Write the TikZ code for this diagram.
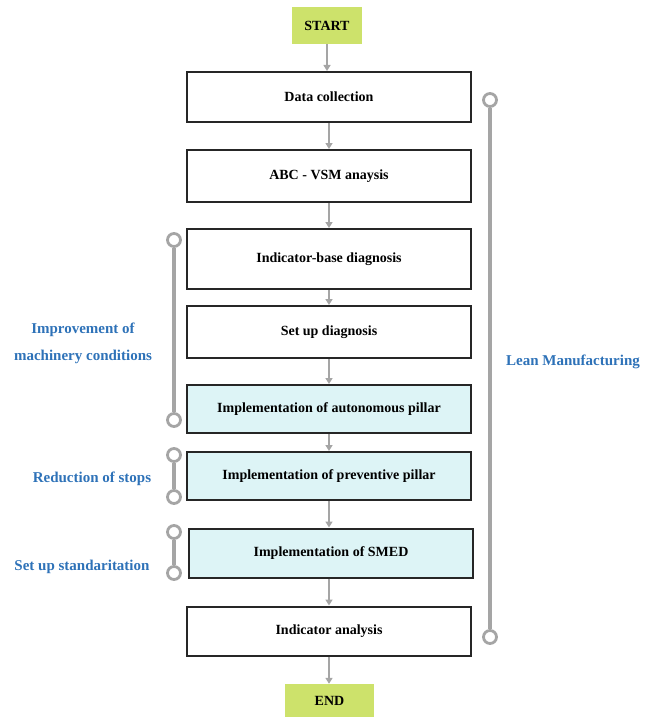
\documentclass[tikz,border=0pt]{standalone}
\usepackage{fontspec}
\setmainfont{Liberation Serif}
\usetikzlibrary{arrows.meta}
\usetikzlibrary{positioning}
\definecolor{startgreen}{HTML}{CDE26B}
\definecolor{pillarcyan}{HTML}{DDF4F6}
\definecolor{bargray}{HTML}{A5A5A5}
\definecolor{labelblue}{HTML}{2E72B8}

\begin{document}
\begin{tikzpicture}[x=1pt, y=-1pt, font=\fontsize{14}{16}\selectfont\bfseries,
  stepbox/.style={draw=black!85, line width=2pt, fill=white,
    minimum width=284pt, minimum height=50pt},
  pillarbox/.style={stepbox, fill=pillarcyan},
  endbox/.style={fill=startgreen, minimum width=70pt, minimum height=37pt},
  flow/.style={draw=bargray, line width=2pt, -{Triangle[length=6pt,width=7pt]}},
  bar/.style={draw=bargray, line width=3.5pt},
  ring/.style={circle, draw=bargray, line width=2.8pt, fill=white,
    minimum size=13pt, inner sep=0pt},
  phase/.style={text=labelblue, align=center,
    font=\fontsize{15}{27}\selectfont\bfseries}]
  \useasboundingbox (0,0) rectangle (654,717);
  % Start and end
  \node[endbox] (start) at (327,25.5) {START};
  \node[endbox, minimum width=89pt, minimum height=33pt] (end) at (329.5,700.5) {END};
  % Steps
  \node[stepbox] (data) at (329,97) {Data collection};
  \node[stepbox, minimum height=52pt] (abc) at (329,176) {ABC - VSM anaysis};
  \node[stepbox, minimum height=60pt] (indbase) at (329,259) {Indicator-base diagnosis};
  \node[stepbox, minimum height=52pt] (setup) at (329,332) {Set up diagnosis};
  \node[pillarbox, minimum height=48pt] (auto) at (329,409) {Implementation of autonomous pillar};
  \node[pillarbox, minimum height=48pt] (prev) at (329,476) {Implementation of preventive pillar};
  \node[pillarbox, minimum height=49pt] (smed) at (331,553) {Implementation of SMED};
  \node[stepbox, minimum height=49pt] (indan) at (329,631) {Indicator analysis};
  % Flow
  \draw[flow] (start.south) -- (start.south |- data.north);
  \draw[flow] (data) -- (abc);
  \draw[flow] (abc) -- (indbase);
  \draw[flow] (indbase) -- (setup);
  \draw[flow] (setup) -- (auto);
  \draw[flow] (auto) -- (prev);
  \draw[flow] (prev.south) -- (prev.south |- smed.north);
  \draw[flow] (smed.south -| indan.north) -- (indan);
  \draw[flow] (indan.south) -- (indan.south |- end.north);
  % Lean Manufacturing bracket
  \node[ring] (leantop) at (490,100) {};
  \node[ring] (leanbot) at (490,637) {};
  \draw[bar] (leantop) -- (leanbot);
  \node[phase] (lean) at (573,362) {Lean Manufacturing};
  % Improvement of machinery conditions bracket
  \node[ring] (imptop) at (174,240) {};
  \node[ring] (impbot) at (174,420) {};
  \draw[bar] (imptop) -- (impbot);
  \node[phase] (imp) at (83,343) {Improvement of\\machinery conditions};
  % Reduction of stops bracket
  \node[ring] (redtop) at (174,455) {};
  \node[ring] (redbot) at (174,497) {};
  \draw[bar] (redtop) -- (redbot);
  \node[phase] (red) at (92,479) {Reduction of stops};
  % Set up standaritation bracket
  \node[ring] (stdtop) at (174,532) {};
  \node[ring] (stdbot) at (174,573) {};
  \draw[bar] (stdtop) -- (stdbot);
  \node[phase] (std) at (82,567) {Set up standaritation};
\end{tikzpicture}
\end{document}
